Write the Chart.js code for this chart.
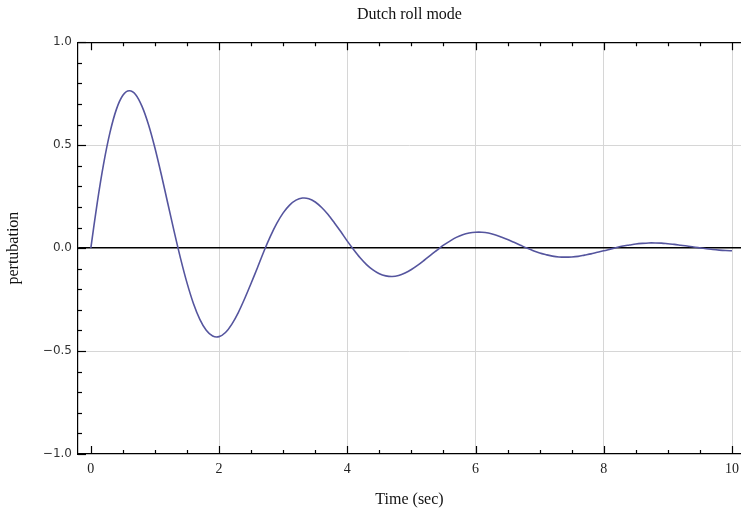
<!DOCTYPE html>
<html><head><meta charset="utf-8">
<script src="https://cdn.jsdelivr.net/npm/chart.js@4.4.0/dist/chart.umd.min.js"></script>
<style>html,body{margin:0;padding:0;background:#fff}#wrap{width:741px;height:513px}</style>
</head><body><div id="wrap"><canvas id="c" width="741" height="513"></canvas></div>
<script>
const chartTitle = 'Dutch roll mode';
const xTitle = 'Time (sec)';
const yTitle = 'pertubation';
const timeSec = [0,0.1,0.2,0.3,0.4,0.5,0.6,0.7,0.8,0.9,1,1.1,1.2,1.3,1.4,1.5,1.6,1.7,1.8,1.9,2,2.1,2.2,2.3,2.4,2.5,2.6,2.7,2.8,2.9,3,3.1,3.2,3.3,3.4,3.5,3.6,3.7,3.8,3.9,4,4.1,4.2,4.3,4.4,4.5,4.6,4.7,4.8,4.9,5,5.1,5.2,5.3,5.4,5.5,5.6,5.7,5.8,5.9,6,6.1,6.2,6.3,6.4,6.5,6.6,6.7,6.8,6.9,7,7.1,7.2,7.3,7.4,7.5,7.6,7.7,7.8,7.9,8,8.1,8.2,8.3,8.4,8.5,8.6,8.7,8.8,8.9,9,9.1,9.2,9.3,9.4,9.5,9.6,9.7,9.8,9.9,10];
const perturbation = [0,0.220,0.410,0.563,0.675,0.742,0.764,0.745,0.687,0.599,0.486,0.356,0.218,0.080,-0.051,-0.169,-0.269,-0.346,-0.399,-0.427,-0.430,-0.410,-0.369,-0.313,-0.245,-0.171,-0.094,-0.015,0.057,0.120,0.171,0.209,0.233,0.243,0.240,0.224,0.197,0.163,0.122,0.079,0.034,-0.008,-0.047,-0.080,-0.106,-0.125,-0.135,-0.138,-0.133,-0.121,-0.104,-0.083,-0.059,-0.034,-0.010,0.014,0.034,0.052,0.065,0.073,0.077,0.077,0.073,0.065,0.054,0.042,0.028,0.014,0,-0.013,-0.024,-0.032,-0.039,-0.043,-0.044,-0.043,-0.040,-0.034,-0.028,-0.020,-0.013,-0.005,0.003,0.010,0.015,0.020,0.023,0.025,0.025,0.024,0.021,0.018,0.014,0.010,0.005,0.001,-0.003,-0.007,-0.010,-0.012,-0.013];
const xTickValues = [0,2,4,6,8,10];
const xTickLabels = ['0','2','4','6','8','10'];
const yTickValues = [-1,-0.5,0,0.5,1];
const yTickLabels = ['\u22121.0','\u22120.5','0.0','0.5','1.0'];

const xMinor = [], yMinor = [];
for (let i = 1; i < 21; i++) { if (i % 4) xMinor.push(i * 0.5); }
for (let i = -9; i <= 9; i++) { if (i % 5) yMinor.push(i / 10); }

const frameTicks = {
  id: 'frameTicks',
  afterDatasetsDraw(chart) {
    const {ctx, chartArea: a, scales: {x, y}} = chart;
    ctx.save();
    ctx.strokeStyle = '#000';
    ctx.lineWidth = 1.2;
    const vt = (v, len) => {
      const p = Math.round(x.getPixelForValue(v)) + 0.5;
      ctx.beginPath();
      ctx.moveTo(p, a.bottom); ctx.lineTo(p, a.bottom - len);
      ctx.moveTo(p, a.top); ctx.lineTo(p, a.top + len);
      ctx.stroke();
    };
    const ht = (v, len) => {
      const p = Math.round(y.getPixelForValue(v)) + 0.5;
      ctx.beginPath();
      ctx.moveTo(a.left, p); ctx.lineTo(a.left + len, p);
      ctx.stroke();
    };
    xTickValues.forEach(v => vt(v, 8));
    xMinor.forEach(v => vt(v, 4));
    yTickValues.forEach(v => ht(v, 8));
    yMinor.forEach(v => ht(v, 4));
    ctx.restore();
  }
};

new Chart(document.getElementById('c'), {
  type: 'line',
  data: {
    datasets: [{
      data: timeSec.map((t, i) => ({x: t, y: perturbation[i]})),
      borderColor: '#55559e',
      borderWidth: 1.6,
      pointRadius: 0,
      tension: 0.3,
      fill: false
    }]
  },
  options: {
    responsive: false,
    animation: false,
    devicePixelRatio: 1,
    layout: {padding: {left: 0, right: 0, top: 0, bottom: 0}},
    plugins: {
      legend: {display: false},
      tooltip: {enabled: false},
      title: {
        display: true, text: chartTitle, fullSize: false,
        color: '#111',
        font: {family: 'Liberation Serif', size: 16, weight: 'normal'},
        padding: {top: 5, bottom: 18}
      }
    },
    scales: {
      x: {
        type: 'linear', min: -0.2, max: 10.14,
        afterBuildTicks: s => { s.ticks = xTickValues.map(v => ({value: v})); },
        afterFit: s => { s.height = 59; s.paddingRight = 0; s.paddingLeft = 0; },
        ticks: {
          callback: (v, i) => xTickLabels[i],
          color: '#222', padding: 7, maxRotation: 0,
          font: {family: 'Liberation Serif', size: 14}
        },
        grid: {
          drawTicks: false,
          color: c => (c.tick && c.tick.value === 0) ? 'rgba(0,0,0,0)' : '#d6d6d6',
          lineWidth: 1
        },
        border: {display: true, color: '#000', width: 1.2},
        title: {
          display: true, text: xTitle, color: '#111',
          font: {family: 'Liberation Serif', size: 16},
          padding: {top: 0, bottom: 4}
        }
      },
      y: {
        type: 'linear', min: -1, max: 1,
        afterBuildTicks: s => { s.ticks = yTickValues.map(v => ({value: v})); },
        afterFit: s => { s.width = 78; },
        ticks: {
          callback: (v, i) => yTickLabels[i],
          color: '#333', padding: 6,
          font: {family: 'DejaVu Sans', size: 12}
        },
        grid: {
          drawTicks: false,
          color: c => {
            const v = c.tick ? c.tick.value : null;
            if (v === 0 || v === 1) return '#000';
            if (v === -1) return 'rgba(0,0,0,0)';
            return '#d6d6d6';
          },
          lineWidth: c => (c.tick && c.tick.value === 0) ? 1.6 : (c.tick && c.tick.value === 1 ? 1.2 : 1)
        },
        border: {display: true, color: '#000', width: 1.2},
        title: {
          display: true, text: yTitle, color: '#111',
          font: {family: 'Liberation Serif', size: 16},
          padding: {top: 4, bottom: 0}
        }
      }
    }
  },
  plugins: [frameTicks]
});
</script>
</body></html>
